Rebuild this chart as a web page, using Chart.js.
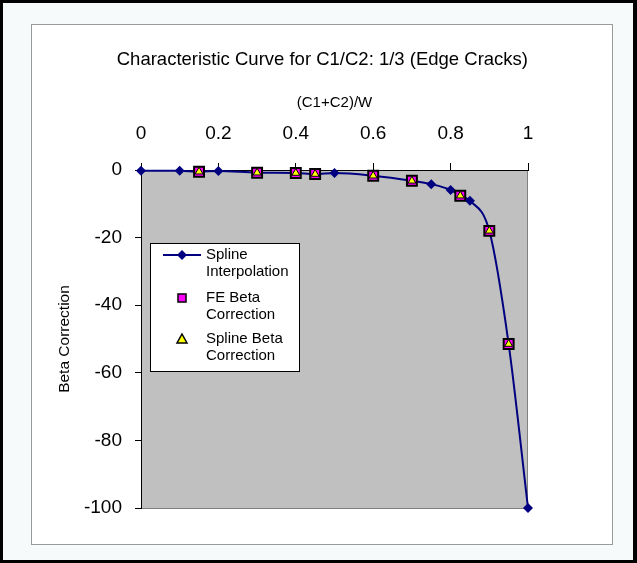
<!DOCTYPE html>
<html><head><meta charset="utf-8">
<script src="https://cdn.jsdelivr.net/npm/chart.js@4/dist/chart.umd.min.js"></script>
<style>html,body{margin:0;padding:0;background:#fff;}canvas{display:block;}</style>
</head><body>
<canvas id="c" width="637" height="563"></canvas>
<script>
const chartTitle = 'Characteristic Curve for C1/C2: 1/3 (Edge Cracks)';
const xTitle = '(C1+C2)/W';
const yTitle = 'Beta Correction';
const seriesNames = ['Spline Interpolation', 'FE Beta Correction', 'Spline Beta Correction'];
const legendLines = [['Spline', 'Interpolation'], ['FE Beta', 'Correction'], ['Spline Beta', 'Correction']];

const splineX = [0, 0.1, 0.2, 0.5, 0.75, 0.8, 0.85, 1.0];
const splineY = [-0.2, -0.2, -0.3, -0.9, -4.2, -5.9, -9.1, -100];
const feX = [0.15, 0.3, 0.4, 0.45, 0.6, 0.7, 0.825, 0.9, 0.95];
const feY = [-0.5, -0.8, -0.9, -1.2, -1.7, -3.2, -7.6, -18.0, -51.5];
const splineBetaX = [0.15, 0.3, 0.4, 0.45, 0.6, 0.7, 0.825, 0.9, 0.95];
const splineBetaY = [-0.5, -0.8, -0.9, -1.2, -1.7, -3.2, -7.6, -18.0, -51.5];

const xTicks = [0, 0.2, 0.4, 0.6, 0.8, 1];
const yTicks = [-100, -80, -60, -40, -20, 0];

const FONT = "'Liberation Sans', Arial, sans-serif";
const NAVY = '#000080';

const pts = (xs, ys) => xs.map((x, i) => ({x: x, y: ys[i]}));
const curvePts = pts(splineX, splineY).concat(pts(splineBetaX, splineBetaY)).sort((a, b) => a.x - b.x);

const framePlugin = {
  id: 'frame',
  beforeDraw(chart) {
    const ctx = chart.ctx, W = chart.width, H = chart.height, a = chart.chartArea;
    ctx.save();
    ctx.fillStyle = '#000';
    ctx.fillRect(0, 0, W, H);
    ctx.fillStyle = '#F7FAFA';
    ctx.fillRect(3, 3, W - 7, H - 6);
    ctx.fillStyle = '#FFFFFF';
    ctx.fillRect(31, 24, 581, 520);
    ctx.strokeStyle = '#9A9A9A';
    ctx.lineWidth = 1;
    ctx.strokeRect(31.5, 24.5, 581, 520);
    ctx.fillStyle = '#C0C0C0';
    ctx.fillRect(a.left, a.top, a.right - a.left, a.bottom - a.top);
    ctx.strokeStyle = '#808080';
    ctx.strokeRect(a.left + 0.5, a.top + 0.5, a.right - a.left - 1, a.bottom - a.top);
    ctx.restore();
  }
};

const legendPlugin = {
  id: 'boxLegend',
  afterDraw(chart) {
    const ctx = chart.ctx, a = chart.chartArea;
    const bx = a.left + 9, by = a.top + 73, bw = 149, bh = 128;
    ctx.save();
    ctx.fillStyle = '#FFFFFF';
    ctx.fillRect(bx, by, bw, bh);
    ctx.strokeStyle = '#000';
    ctx.lineWidth = 1;
    ctx.strokeRect(bx + 0.5, by + 0.5, bw, bh);
    const sx = bx + 32, tx = bx + 56;
    const rows = [by + 12, by + 55, by + 96];
    ctx.strokeStyle = NAVY; ctx.lineWidth = 2;
    ctx.beginPath(); ctx.moveTo(bx + 13, rows[0]); ctx.lineTo(bx + 51, rows[0]); ctx.stroke();
    ctx.fillStyle = NAVY;
    Chart.helpers.drawPoint(ctx, {pointStyle: 'rectRot', radius: 5, rotation: 0, borderWidth: 0}, sx, rows[0]);
    ctx.fillStyle = '#FF00FF'; ctx.strokeStyle = '#000'; ctx.lineWidth = 1.5;
    ctx.fillRect(sx - 4, rows[1] - 4, 8, 8); ctx.strokeRect(sx - 4, rows[1] - 4, 8, 8);
    ctx.fillStyle = '#FFFF00'; ctx.lineWidth = 1.5;
    ctx.beginPath(); ctx.moveTo(sx, rows[2] - 5); ctx.lineTo(sx + 5, rows[2] + 4); ctx.lineTo(sx - 5, rows[2] + 4); ctx.closePath();
    ctx.fill(); ctx.stroke();
    ctx.fillStyle = '#000';
    ctx.font = '15px ' + FONT;
    ctx.textBaseline = 'middle';
    ctx.textAlign = 'left';
    legendLines.forEach((ls, i) => {
      ls.forEach((t, j) => ctx.fillText(t, tx, rows[i] + j * 17));
    });
    ctx.restore();
  }
};

new Chart(document.getElementById('c'), {
  type: 'scatter',
  data: {
    datasets: [
      {label: 'curve', data: curvePts, showLine: true, borderColor: NAVY, borderWidth: 2,
       pointRadius: 0, cubicInterpolationMode: 'monotone', order: 4, clip: false},
      {label: seriesNames[0], data: pts(splineX, splineY), showLine: false, pointStyle: 'rectRot',
       pointRadius: 5, backgroundColor: NAVY, borderColor: NAVY, borderWidth: 0, order: 3, clip: false},
      {label: seriesNames[1], data: pts(feX, feY), showLine: false, pointStyle: 'rect',
       pointRadius: 7, backgroundColor: '#FF00FF', borderColor: '#000', borderWidth: 2, order: 2, clip: false},
      {label: seriesNames[2], data: pts(splineBetaX, splineBetaY), showLine: false, pointStyle: 'triangle',
       pointRadius: 4.5, backgroundColor: '#FFFF00', borderColor: '#000', borderWidth: 1, order: 1, clip: false}
    ]
  },
  options: {
    responsive: false,
    animation: false,
    devicePixelRatio: 1,
    layout: {padding: {left: 0, right: 109, top: 0, bottom: 55}},
    plugins: {
      legend: {display: false},
      tooltip: {enabled: false},
      title: {display: true, text: chartTitle, color: '#000', align: 'end',
        font: {family: FONT, size: 18.5, weight: 'normal'}, padding: {top: 49, bottom: 0}}
    },
    scales: {
      x: {
        type: 'linear', position: 'top', min: 0, max: 1,
        afterBuildTicks: s => { s.ticks = xTicks.map(v => ({value: v})); },
        ticks: {color: '#000', font: {family: FONT, size: 19}, padding: 18, maxRotation: 0,
          callback: v => String(v)},
        grid: {drawOnChartArea: false, drawTicks: true, tickLength: 7, color: '#000'},
        border: {display: true, color: '#000', width: 1},
        title: {display: true, text: xTitle, color: '#000', font: {family: FONT, size: 15}, padding: {top: 23, bottom: 0}},
        afterFit: s => { s.height = 170 - 71.2; }
      },
      y: {
        type: 'linear', position: 'left', min: -100, max: 0,
        afterBuildTicks: s => { s.ticks = yTicks.map(v => ({value: v})); },
        ticks: {color: '#000', font: {family: FONT, size: 19}, padding: 13, callback: v => String(v)},
        grid: {drawOnChartArea: false, drawTicks: true, tickLength: 6, color: '#000'},
        border: {display: true, color: '#000', width: 1},
        title: {display: true, text: yTitle, color: '#000', font: {family: FONT, size: 15.5}, padding: {top: 55, bottom: 0}},
        afterFit: s => { s.width = 141; }
      }
    }
  },
  plugins: [framePlugin, legendPlugin]
});
</script>
</body></html>
